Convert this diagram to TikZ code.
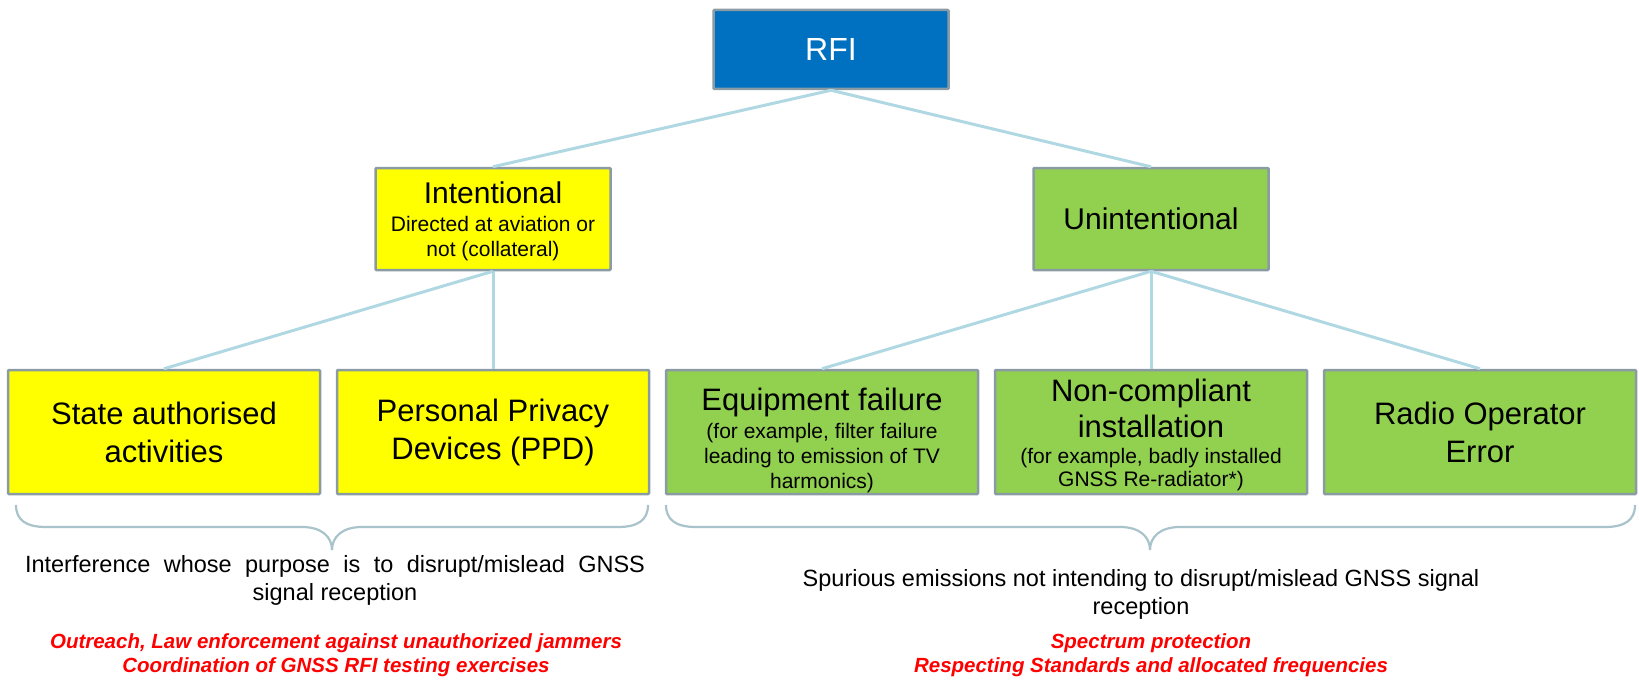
\documentclass[tikz,border=0pt]{standalone}
\usepackage{fontspec}
\setmainfont{Liberation Sans}
\newcommand{\fsz}[2]{\fontsize{#1pt}{#2pt}\selectfont}
\definecolor{rfiblue}{HTML}{0070C0}
\definecolor{ylw}{HTML}{FFFF00}
\definecolor{grn}{HTML}{92D050}
\definecolor{bordergray}{HTML}{8A9BA3}
\definecolor{connblue}{HTML}{B0D8E2}
\definecolor{bracegray}{HTML}{A9C3CA}
\definecolor{redtxt}{HTML}{FF0000}
\tikzset{
  box/.style={draw=bordergray, line width=2.5pt, inner sep=0pt, align=center, rounded corners=1pt},
  topbox/.style={box, minimum width=235pt, minimum height=102pt},
  lowbox/.style={box, minimum width=312pt, minimum height=124pt},
  conn/.style={draw=connblue, line width=3pt},
  bracestyle/.style={draw=bracegray, line width=2.2pt},
  tx/.style={inner sep=0pt, align=center, text=black},
  redline/.style={tx, text=redtxt, font=\fsz{20.5}{24}\bfseries\itshape},
  desc/.style={tx, font=\fsz{23.5}{28}}
}
\begin{document}
\begin{tikzpicture}[x=1pt,y=-1pt]
\useasboundingbox (0,0) rectangle (1639,685);
% boxes
\node[box, fill=rfiblue, minimum width=235pt, minimum height=79pt, text=white, font=\fsz{32}{38}] (rfi) at (831,49.5) {RFI};
\node[topbox, fill=ylw] (int) at (493,219) {};
\node[topbox, fill=grn, font=\fsz{30}{36}] (unint) at (1151,219) {Unintentional};
\node[lowbox, fill=ylw, font=\fsz{31}{38}] (state) at (164,432) {State authorised\\activities};
\node[lowbox, fill=ylw, font=\fsz{31}{38}] (ppd) at (493,432) {Personal Privacy\\Devices (PPD)};
\node[lowbox, fill=grn] (eq) at (822,432) {};
\node[lowbox, fill=grn] (nc) at (1151,432) {};
\node[lowbox, fill=grn, font=\fsz{31}{38}] (radio) at (1480,432) {Radio Operator\\Error};
% texts in boxes
\node[tx, font=\fsz{21}{25}] (inttxt) at (493,221) {{\fsz{30}{30}Intentional}\\[3pt]Directed at aviation or\\not (collateral)};
\node[tx, font=\fsz{21}{25}] (eqtxt) at (822,440) {{\fsz{31}{31}Equipment failure}\\[3pt](for example, filter failure\\leading to emission of TV\\harmonics)};
\node[tx, font=\fsz{21}{23}] (nctxt) at (1151,435) {{\fsz{31}{31}Non-compliant}\\[6pt]{\fsz{31}{31}installation}\\[3pt](for example, badly installed\\GNSS Re-radiator*)};
% connectors
\draw[conn] (rfi.south) -- (int.north);
\draw[conn] (rfi.south) -- (unint.north);
\draw[conn] (int.south) -- (state.north);
\draw[conn] (int.south) -- (ppd.north);
\draw[conn] (unint.south) -- (eq.north);
\draw[conn] (unint.south) -- (nc.north);
\draw[conn] (unint.south) -- (radio.north);
% braces
\draw[bracestyle] (16,505) .. controls (16,520) and (26,527) .. (46,527) -- (302,527) .. controls (322,527) and (332,537) .. (332,550) .. controls (332,537) and (342,527) .. (362,527) -- (618,527) .. controls (638,527) and (648,520) .. (648,505);
\draw[bracestyle] (666,505) .. controls (666,520) and (676,527) .. (696,527) -- (1120,527) .. controls (1140,527) and (1150,537) .. (1150,550) .. controls (1150,537) and (1160,527) .. (1180,527) -- (1605,527) .. controls (1625,527) and (1635,520) .. (1635,505);
% descriptions
\node[desc] (ldesc) at (335,580) {\makebox[620pt][s]{Interference whose purpose is to disrupt/mislead GNSS}\\signal reception};
\node[redline] (lred) at (336,655) {Outreach, Law enforcement against unauthorized jammers\\Coordination of GNSS RFI testing exercises};
\node[desc] (rdesc) at (1141,594) {Spurious emissions not intending to disrupt/mislead GNSS signal\\reception};
\node[redline] (rred) at (1151,655) {Spectrum protection\\Respecting Standards and allocated frequencies};
\end{tikzpicture}
\end{document}
